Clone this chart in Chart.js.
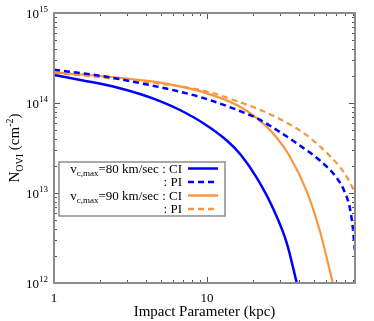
<!DOCTYPE html>
<html>
<head>
<meta charset="utf-8">
<script src="https://cdn.jsdelivr.net/npm/chart.js@4.4.1/dist/chart.umd.min.js"></script>
<style>
  body { margin: 0; background: #fff; }
</style>
</head>
<body>
<canvas id="ovi-chart" width="374" height="321"></canvas>
<script>
// impact parameter (kpc) and N_OVI (cm^-2)
const bCI80 = [1, 1.55, 2.58, 3.65, 4.93, 6.66, 9.42, 13.5, 16.7, 21.2, 27.0, 33.3, 38.7];
const nCI80 = [2.05e14, 1.78e14, 1.49e14, 1.26e14, 1.05e14, 8.36e13, 6.0e13, 3.83e13, 2.64e13, 1.47e13, 6.8e12, 2.78e12, 1.0e12];

const bPI80 = [1, 2.0, 4.24, 6.37, 9.42, 15.7, 21.5, 30, 40.5, 54.8, 70.7, 78.6, 86.1, 90.0, 92.7];
const nPI80 = [2.34e14, 2.01e14, 1.58e14, 1.36e14, 1.14e14, 8.4e13, 6.7e13, 4.76e13, 3.37e13, 2.3e13, 1.47e13, 1.08e13, 6.8e12, 4.1e12, 2.33e12];

const bCI90 = [1, 2.58, 3.65, 5.73, 9.42, 15.9, 21.2, 26.6, 34.4, 45.1, 54.8, 66.6];
const nCI90 = [2.19e14, 1.92e14, 1.80e14, 1.61e14, 1.32e14, 9.38e13, 6.81e13, 4.76e13, 2.64e13, 1.03e13, 3.78e12, 1.0e12];

const bPI90 = [1, 2.58, 7.74, 10.9, 15.7, 22.2, 30, 43.7, 59.0, 74.0, 82.2, 92.7];
const nPI90 = [2.15e14, 1.85e14, 1.47e14, 1.29e14, 1.05e14, 8.4e13, 6.64e13, 4.53e13, 2.93e13, 1.95e13, 1.51e13, 1.03e13];

const xTicks = [1, 10];
const yTicks = [1e12, 1e13, 1e14, 1e15];
const yTickExp = ["12", "13", "14", "15"];

const BLUE = "#0000ff";
const ORANGE = "#f9963f";
const SERIF = "'Liberation Serif', 'DejaVu Serif', serif";

const legendRows = [
  { vc: "=80 km/sec : CI", color: BLUE, dash: [] },
  { vc: null, text: ": PI", color: BLUE, dash: [6, 4] },
  { vc: "=90 km/sec : CI", color: ORANGE, dash: [] },
  { vc: null, text: ": PI", color: ORANGE, dash: [6, 4] }
];

function pts(xs, ys) {
  return xs.map((x, i) => ({ x: x, y: ys[i] }));
}

// text made of pieces with their own size and vertical shift
function richWidth(ctx, parts) {
  let w = 0;
  parts.forEach(p => {
    ctx.font = p.size + "px " + SERIF;
    w += ctx.measureText(p.t).width;
  });
  return w;
}
function drawRich(ctx, parts, x, y, align) {
  let w = richWidth(ctx, parts);
  let cx = align === "right" ? x - w : align === "center" ? x - w / 2 : x;
  parts.forEach(p => {
    ctx.font = p.size + "px " + SERIF;
    ctx.fillText(p.t, cx, y + (p.dy || 0));
    cx += ctx.measureText(p.t).width;
  });
}

const decorations = {
  id: "decorations",
  afterDraw(chart) {
    const ctx = chart.ctx;
    const a = chart.chartArea;
    const xs = chart.scales.x;
    const ys = chart.scales.y;
    ctx.save();
    ctx.fillStyle = "#000";
    ctx.textBaseline = "alphabetic";
    ctx.textAlign = "left";

    // inward ticks on all four sides
    ctx.strokeStyle = "#555";
    ctx.lineWidth = 1;
    ctx.beginPath();
    for (let d = 1; d < 100; d *= 10) {
      for (let m = 1; m <= 9; m++) {
        const v = m * d;
        if (v > xs.max) break;
        const px = Math.round(xs.getPixelForValue(v)) + 0.5;
        const len = m === 1 ? 6 : 3;
        ctx.moveTo(px, a.bottom); ctx.lineTo(px, a.bottom - len);
        ctx.moveTo(px, a.top); ctx.lineTo(px, a.top + len);
      }
    }
    for (let e = 12; e <= 15; e++) {
      for (let m = 1; m <= 9; m++) {
        if (e === 15 && m > 1) break;
        const py = Math.round(ys.getPixelForValue(m * Math.pow(10, e))) + 0.5;
        const len = m === 1 ? 6 : 3;
        ctx.moveTo(a.left, py); ctx.lineTo(a.left + len, py);
        ctx.moveTo(a.right, py); ctx.lineTo(a.right - len, py);
      }
    }
    ctx.stroke();

    // frame
    ctx.strokeStyle = "#8c8c8c";
    ctx.lineWidth = 2;
    ctx.strokeRect(a.left, a.top, a.right - a.left, a.bottom - a.top);

    // tick labels
    xTicks.forEach(v => {
      drawRich(ctx, [{ t: String(v), size: 13 }], xs.getPixelForValue(v), a.bottom + 19, "center");
    });
    yTicks.forEach((v, i) => {
      drawRich(ctx, [{ t: "10", size: 13 }, { t: yTickExp[i], size: 9, dy: -6 }],
        a.left - 6, ys.getPixelForValue(v) + 5, "right");
    });

    // axis titles
    drawRich(ctx, [{ t: "Impact Parameter (kpc)", size: 15 }], (a.left + a.right) / 2, 316, "center");
    ctx.save();
    ctx.translate(19, (a.top + a.bottom) / 2);
    ctx.rotate(-Math.PI / 2);
    drawRich(ctx, [
      { t: "N", size: 15 },
      { t: "OVI", size: 10, dy: 4 },
      { t: " (cm", size: 15 },
      { t: "-2", size: 10, dy: -6 },
      { t: ")", size: 15 }
    ], 0, 0, "center");
    ctx.restore();

    // legend box
    ctx.fillStyle = "#fff";
    ctx.fillRect(59, 162, 166, 54);
    ctx.strokeStyle = "#8c8c8c";
    ctx.lineWidth = 1.5;
    ctx.strokeRect(59, 162, 166, 54);
    ctx.fillStyle = "#000";
    legendRows.forEach((r, i) => {
      const base = 172.5 + i * 13.5;
      const parts = r.vc
        ? [{ t: "v", size: 13 }, { t: "c,max", size: 9, dy: 3 }, { t: r.vc, size: 13 }]
        : [{ t: r.text, size: 13 }];
      drawRich(ctx, parts, 182, base, "right");
      ctx.strokeStyle = r.color;
      ctx.lineWidth = 2.5;
      ctx.setLineDash(r.dash);
      ctx.beginPath();
      ctx.moveTo(188, base - 4);
      ctx.lineTo(218, base - 4);
      ctx.stroke();
      ctx.setLineDash([]);
    });
    ctx.restore();
  }
};

function series(label, xs, ys, color, dash, width) {
  return {
    label: label,
    data: pts(xs, ys),
    borderColor: color,
    borderWidth: width,
    borderDash: dash,
    borderCapStyle: "butt",
    pointRadius: 0,
    fill: false,
    cubicInterpolationMode: "monotone"
  };
}

new Chart(document.getElementById("ovi-chart"), {
  type: "line",
  data: {
    datasets: [
      series("80 CI", bCI80, nCI80, BLUE, [], 2.5),
      series("80 PI", bPI80, nPI80, BLUE, [6, 4], 2.5),
      series("90 CI", bCI90, nCI90, ORANGE, [], 2.2),
      series("90 PI", bPI90, nPI90, ORANGE, [6, 4], 2.2)
    ]
  },
  options: {
    responsive: false,
    devicePixelRatio: 1,
    animation: false,
    layout: { padding: { left: 54, right: 19, top: 13, bottom: 38 } },
    plugins: { legend: { display: false }, tooltip: { enabled: false } },
    scales: {
      x: { type: "logarithmic", min: 1, max: 93, display: false },
      y: { type: "logarithmic", min: 1e12, max: 1e15, display: false }
    }
  },
  plugins: [decorations]
});
</script>
</body>
</html>
